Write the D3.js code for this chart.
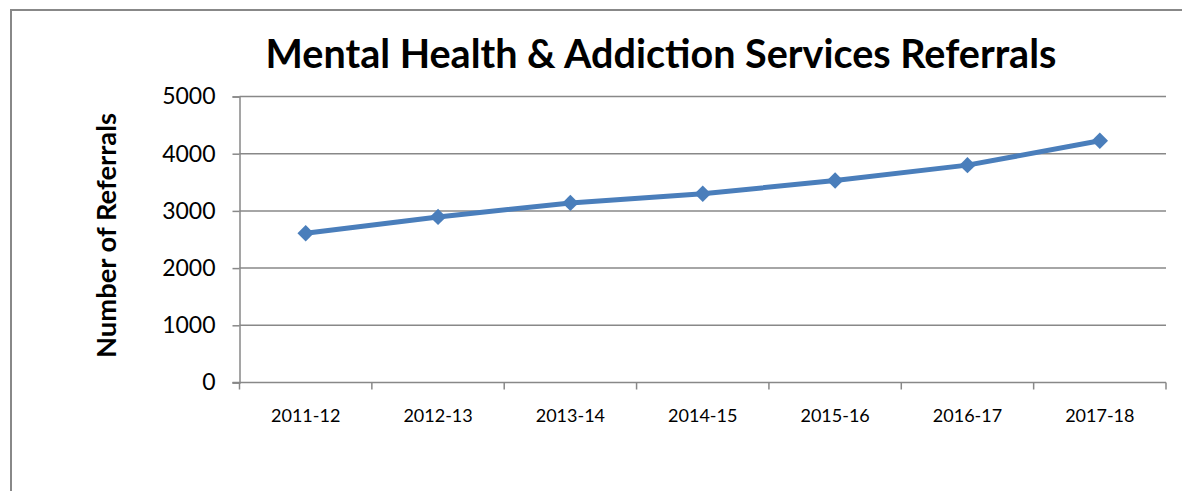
<!DOCTYPE html>
<html>
<head>
<meta charset="utf-8">
<script src="https://cdn.jsdelivr.net/npm/d3@7"></script>
<style>
  html, body { margin: 0; padding: 0; background: #fff; }
  svg { display: block; }
  text { font-family: Lato, "Open Sans", "Liberation Sans", sans-serif; fill: #000; }
</style>
</head>
<body>
<svg id="chart" width="1182" height="491"></svg>
<script>
const categories = ["2011-12", "2012-13", "2013-14", "2014-15", "2015-16", "2016-17", "2017-18"];
const referrals = [2610, 2895, 3140, 3300, 3530, 3800, 4225];
const yTicks = [0, 1000, 2000, 3000, 4000, 5000];
const titleText = "Mental Health & Addiction Services Referrals";
const yTitleText = "Number of Referrals";

const svg = d3.select("#chart");
const W = 1182, H = 491;
const m = { left: 239.5, right: 1166, top: 96.5, bottom: 382.5 };

// outer chart border
svg.append("rect")
  .attr("x", 11).attr("y", 10)
  .attr("width", W).attr("height", H)
  .attr("fill", "#fff").attr("stroke", "#888").attr("stroke-width", 2);

const x = d3.scaleBand().domain(categories).range([m.left, m.right]).paddingInner(0).paddingOuter(0);
const y = d3.scaleLinear().domain([0, 5000]).range([m.bottom, m.top]);

// gridlines
svg.append("g")
  .selectAll("line").data(yTicks.filter(d => d > 0)).join("line")
  .attr("x1", m.left).attr("x2", m.right)
  .attr("y1", d => y(d)).attr("y2", d => y(d))
  .attr("stroke", "#888").attr("stroke-width", 1.5);

// y axis
const yAxis = svg.append("g")
  .attr("transform", `translate(${m.left},0)`)
  .call(d3.axisLeft(y).tickValues(yTicks).tickSize(7).tickPadding(17).tickFormat(d3.format("d")));
yAxis.select(".domain").attr("stroke", "#888").attr("stroke-width", 1.5);
yAxis.selectAll(".tick line").attr("stroke", "#888").attr("stroke-width", 1.5);
yAxis.selectAll(".tick text").attr("font-size", 23).attr("font-family", "Lato, sans-serif").attr("fill", "#000");

// x axis with ticks at category boundaries
const xAxis = svg.append("g")
  .attr("transform", `translate(0,${m.bottom})`)
  .call(d3.axisBottom(x).tickSize(0).tickPadding(27));
xAxis.select(".domain").remove();
xAxis.append("line")
  .attr("x1", m.left - 7).attr("x2", m.right)
  .attr("stroke", "#888").attr("stroke-width", 1.5);
const boundaries = categories.map(c => x(c)).concat([x(categories[categories.length - 1]) + x.bandwidth()]);
xAxis.selectAll(".bound").data(boundaries).join("line")
  .attr("class", "bound")
  .attr("x1", d => d).attr("x2", d => d)
  .attr("y1", 0).attr("y2", 7)
  .attr("stroke", "#888").attr("stroke-width", 1.5);
xAxis.selectAll(".tick text").attr("font-size", 18).attr("font-family", "Lato, sans-serif").attr("fill", "#000");

// line
const cx = d => x(d) + x.bandwidth() / 2;
const line = d3.line().x((d, i) => cx(categories[i])).y(d => y(d));
svg.append("path")
  .datum(referrals)
  .attr("d", line)
  .attr("fill", "none")
  .attr("stroke", "#4a7ebb")
  .attr("stroke-width", 5)
  .attr("stroke-linejoin", "round");

// diamond markers
const sym = d3.symbol().type(d3.symbolSquare).size(135);
svg.append("g").selectAll("path").data(referrals).join("path")
  .attr("d", sym)
  .attr("transform", (d, i) => `translate(${cx(categories[i])},${y(d)}) rotate(45)`)
  .attr("fill", "#4a7ebb");

// title
const title = svg.append("text")
  .attr("x", 661).attr("y", 68)
  .attr("text-anchor", "middle")
  .attr("font-weight", "bold")
  .attr("font-size", 36)
  .text(titleText);
{
  const w = title.node().getComputedTextLength();
  title.attr("font-size", 36 * 791 / w);
}

// y title
const yTitle = svg.append("text")
  .attr("transform", "translate(116,235.5) rotate(-90)")
  .attr("text-anchor", "middle")
  .attr("font-weight", "bold")
  .attr("font-size", 24)
  .text(yTitleText);
{
  const w = yTitle.node().getComputedTextLength();
  yTitle.attr("font-size", 24 * 245 / w);
}
</script>
</body>
</html>
